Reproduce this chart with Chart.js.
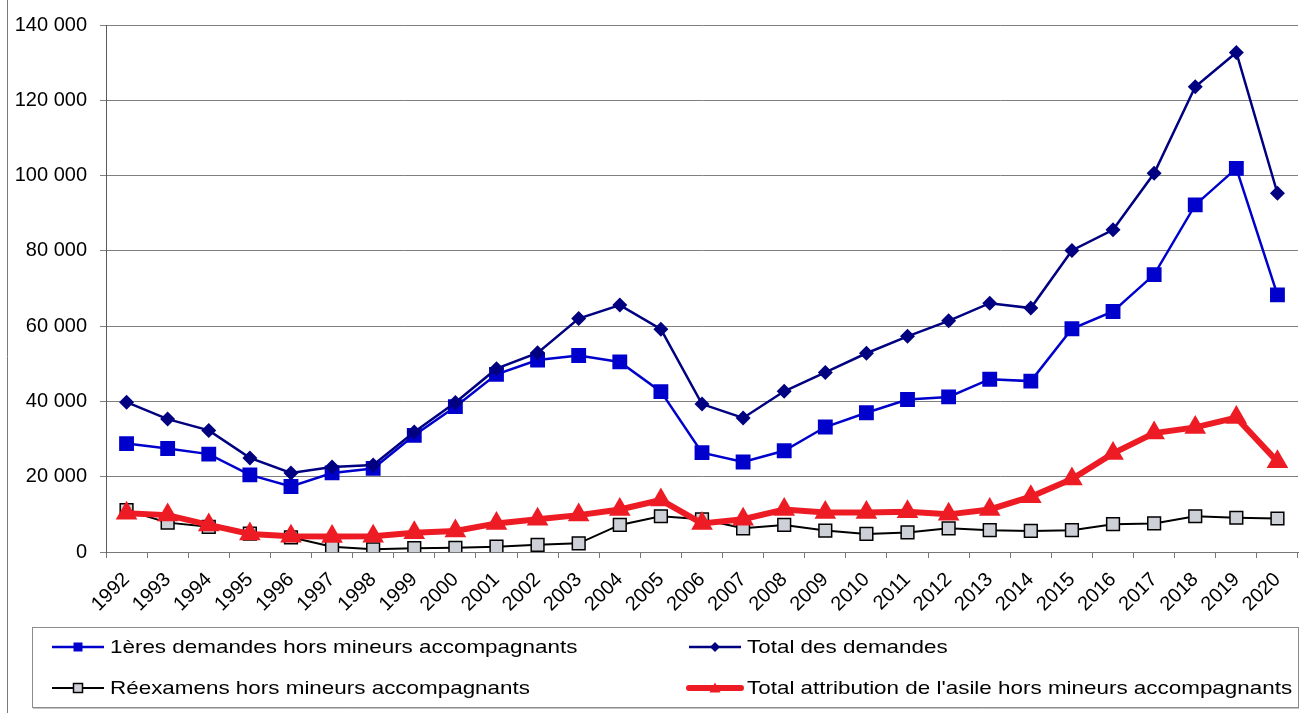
<!DOCTYPE html>
<html lang="fr">
<head>
<meta charset="utf-8">
<title>Demandes d'asile 1992-2020</title>
<script src="https://cdn.jsdelivr.net/npm/chart.js@4.4.0/dist/chart.umd.min.js"></script>
<style>
  body { margin: 0; background: #fff; }
</style>
</head>
<body>
<canvas id="graph" width="1300" height="713"></canvas>
<script>
// Années (axe X)
const annees = ['1992', '1993', '1994', '1995', '1996', '1997', '1998', '1999', '2000', '2001',
    '2002', '2003', '2004', '2005', '2006', '2007', '2008', '2009', '2010', '2011',
    '2012', '2013', '2014', '2015', '2016', '2017', '2018', '2019', '2020'];

// Séries
const premieresDemandes = [28800, 27500, 26000, 20500, 17400, 21000, 22200, 31000, 38600, 47200,
    51000, 52200, 50500, 42600, 26400, 23900, 26900, 33200, 37000, 40500,
    41200, 45900, 45400, 59300, 63900, 73700, 92200, 101900, 68300];
const totalDemandes = [39800, 35300, 32300, 25000, 21000, 22600, 23100, 31900, 39700, 48700,
    52900, 62000, 65600, 59200, 39300, 35600, 42700, 47700, 52800, 57300,
    61400, 66100, 64800, 80100, 85600, 100600, 123600, 132700, 95300];
const reexamens = [11100, 7800, 6700, 4900, 3900, 1400, 700, 1000, 1100, 1400,
    1900, 2300, 7200, 9500, 8700, 6300, 7200, 5700, 4800, 5200,
    6300, 5800, 5600, 5800, 7400, 7600, 9500, 9100, 8900];
const totalAttribution = [10300, 9800, 7200, 4800, 4200, 4100, 4200, 5100, 5600, 7600,
    8700, 9800, 11300, 13800, 7600, 8700, 11300, 10500, 10500, 10700,
    10000, 11300, 14700, 19400, 26200, 31600, 33100, 35700, 24000];

// Axe Y
const yMin = 0;
const yMax = 140000;
const yPas = 20000;

const POLICE = '"Liberation Sans", Arial, sans-serif';

function formatMilliers(v) {
    return v.toString().replace(/\B(?=(\d{3})+(?!\d))/g, ' ');
}

// petit marqueur pour la légende
function dessineMarqueur(ctx, style, x, y, r, fond, bord, lw) {
    ctx.beginPath();
    if (style === 'rect') {
        ctx.rect(x - r, y - r, 2 * r, 2 * r);
    } else if (style === 'rectRot') {
        ctx.moveTo(x, y - r - 1);
        ctx.lineTo(x + r + 1, y);
        ctx.lineTo(x, y + r + 1);
        ctx.lineTo(x - r - 1, y);
        ctx.closePath();
    } else if (style === 'triangle') {
        ctx.moveTo(x, y - r - 1);
        ctx.lineTo(x + r + 1, y + r);
        ctx.lineTo(x - r - 1, y + r);
        ctx.closePath();
    }
    ctx.fillStyle = fond;
    ctx.fill();
    if (lw) {
        ctx.lineWidth = lw;
        ctx.strokeStyle = bord;
        ctx.stroke();
    }
}

// cadre gauche + légende en deux colonnes
const cadrePlugin = {
    id: 'cadre',
    beforeDraw(chart) {
        const ctx = chart.ctx;
        ctx.save();
        ctx.fillStyle = '#fff';
        ctx.fillRect(0, 0, chart.width, chart.height);
        ctx.strokeStyle = '#7a7a7a';
        ctx.lineWidth = 1;
        ctx.beginPath();
        ctx.moveTo(7.5, 0);
        ctx.lineTo(7.5, chart.height);
        ctx.stroke();
        ctx.restore();
    },
    afterDraw(chart) {
        const ctx = chart.ctx;
        ctx.save();
        // boîte
        ctx.strokeStyle = '#c4c4c4';
        ctx.lineWidth = 1;
        ctx.beginPath();
        ctx.moveTo(33, 708.5);
        ctx.lineTo(1299, 708.5);
        ctx.stroke();
        ctx.strokeStyle = '#8c8c8c';
        ctx.strokeRect(32.5, 627.5, 1266, 80);

        const cols = [52, 689];
        const rows = [647, 688];
        const items = [
            { ds: 0, col: 0, row: 0, taille: 4.5 },
            { ds: 1, col: 1, row: 0, taille: 4 },
            { ds: 2, col: 0, row: 1, taille: 4.5 },
            { ds: 3, col: 1, row: 1, taille: 4.5 }
        ];
        items.forEach(function(it) {
            const d = chart.data.datasets[it.ds];
            const x0 = cols[it.col];
            const y = rows[it.row];
            ctx.strokeStyle = d.borderColor;
            ctx.lineWidth = d.borderWidth;
            ctx.lineCap = it.ds === 3 ? 'round' : 'butt';
            ctx.beginPath();
            ctx.moveTo(x0, y);
            ctx.lineTo(x0 + 52, y);
            ctx.stroke();
            ctx.lineCap = 'butt';
            dessineMarqueur(ctx, d.pointStyle, x0 + 26, y, it.taille,
                d.pointBackgroundColor, d.pointBorderColor, d.pointBorderWidth);

            ctx.save();
            ctx.translate(x0 + 58, y + 1);
            ctx.scale(1.18, 1);
            ctx.fillStyle = '#000';
            ctx.font = '19px ' + POLICE;
            ctx.textBaseline = 'middle';
            ctx.textAlign = 'left';
            ctx.fillText(d.label, 0, 0);
            ctx.restore();
        });
        ctx.restore();
    }
};

var ctx = document.getElementById('graph').getContext('2d');
var graphe = new Chart(ctx, {
    type: 'line',
    data: {
        labels: annees,
        datasets: [{
            label: '1ères demandes hors mineurs accompagnants',
            data: premieresDemandes,
            borderColor: '#0000cc',
            borderWidth: 2.5,
            pointStyle: 'rect',
            pointRadius: 10.5,
            pointBackgroundColor: '#0000cc',
            pointBorderColor: '#0000cc',
            pointBorderWidth: 0,
            order: 4
        }, {
            label: 'Total des demandes',
            data: totalDemandes,
            borderColor: '#000080',
            borderWidth: 2.5,
            pointStyle: 'rectRot',
            pointRadius: 7.5,
            pointBackgroundColor: '#000080',
            pointBorderColor: '#000080',
            pointBorderWidth: 0,
            order: 3
        }, {
            label: 'Réexamens hors mineurs accompagnants',
            data: reexamens,
            borderColor: '#000000',
            borderWidth: 2,
            pointStyle: 'rect',
            pointRadius: 9,
            pointBackgroundColor: '#cdd0d6',
            pointBorderColor: '#000000',
            pointBorderWidth: 1.5,
            order: 2
        }, {
            label: "Total attribution de l'asile hors mineurs accompagnants",
            data: totalAttribution,
            borderColor: '#ed1c24',
            borderWidth: 6,
            pointStyle: 'triangle',
            pointRadius: 12.5,
            pointBackgroundColor: '#ed1c24',
            pointBorderColor: '#ed1c24',
            pointBorderWidth: 0,
            order: 1
        }]
    },
    options: {
        responsive: false,
        animation: false,
        layout: {
            autoPadding: false,
            padding: { top: 24, right: 2, left: 0, bottom: 0 }
        },
        plugins: {
            legend: { display: false },
            tooltip: { enabled: false }
        },
        elements: { line: { tension: 0 } },
        scales: {
            x: {
                offset: true,
                afterFit: function(scale) {
                    scale.height = 161;
                    // pas de marge pour les étiquettes inclinées
                    scale.paddingLeft = 0;
                    scale.paddingRight = 0;
                },
                grid: {
                    offset: true,
                    drawOnChartArea: false,
                    drawTicks: true,
                    tickLength: 6,
                    color: '#777'
                },
                border: { display: true, color: '#777' },
                ticks: {
                    autoSkip: false,
                    minRotation: 45,
                    maxRotation: 45,
                    padding: 10,
                    color: '#000',
                    font: { family: POLICE, size: 20 }
                }
            },
            y: {
                min: yMin,
                max: yMax,
                afterFit: function(scale) { scale.width = 106; },
                grid: {
                    color: '#7f7f7f',
                    tickLength: 6
                },
                border: { display: true, color: '#5a5a5a' },
                ticks: {
                    stepSize: yPas,
                    padding: 13,
                    color: '#000',
                    font: { family: POLICE, size: 20 },
                    callback: function(v) { return formatMilliers(v); }
                }
            }
        }
    },
    plugins: [cadrePlugin]
});
</script>
</body>
</html>
